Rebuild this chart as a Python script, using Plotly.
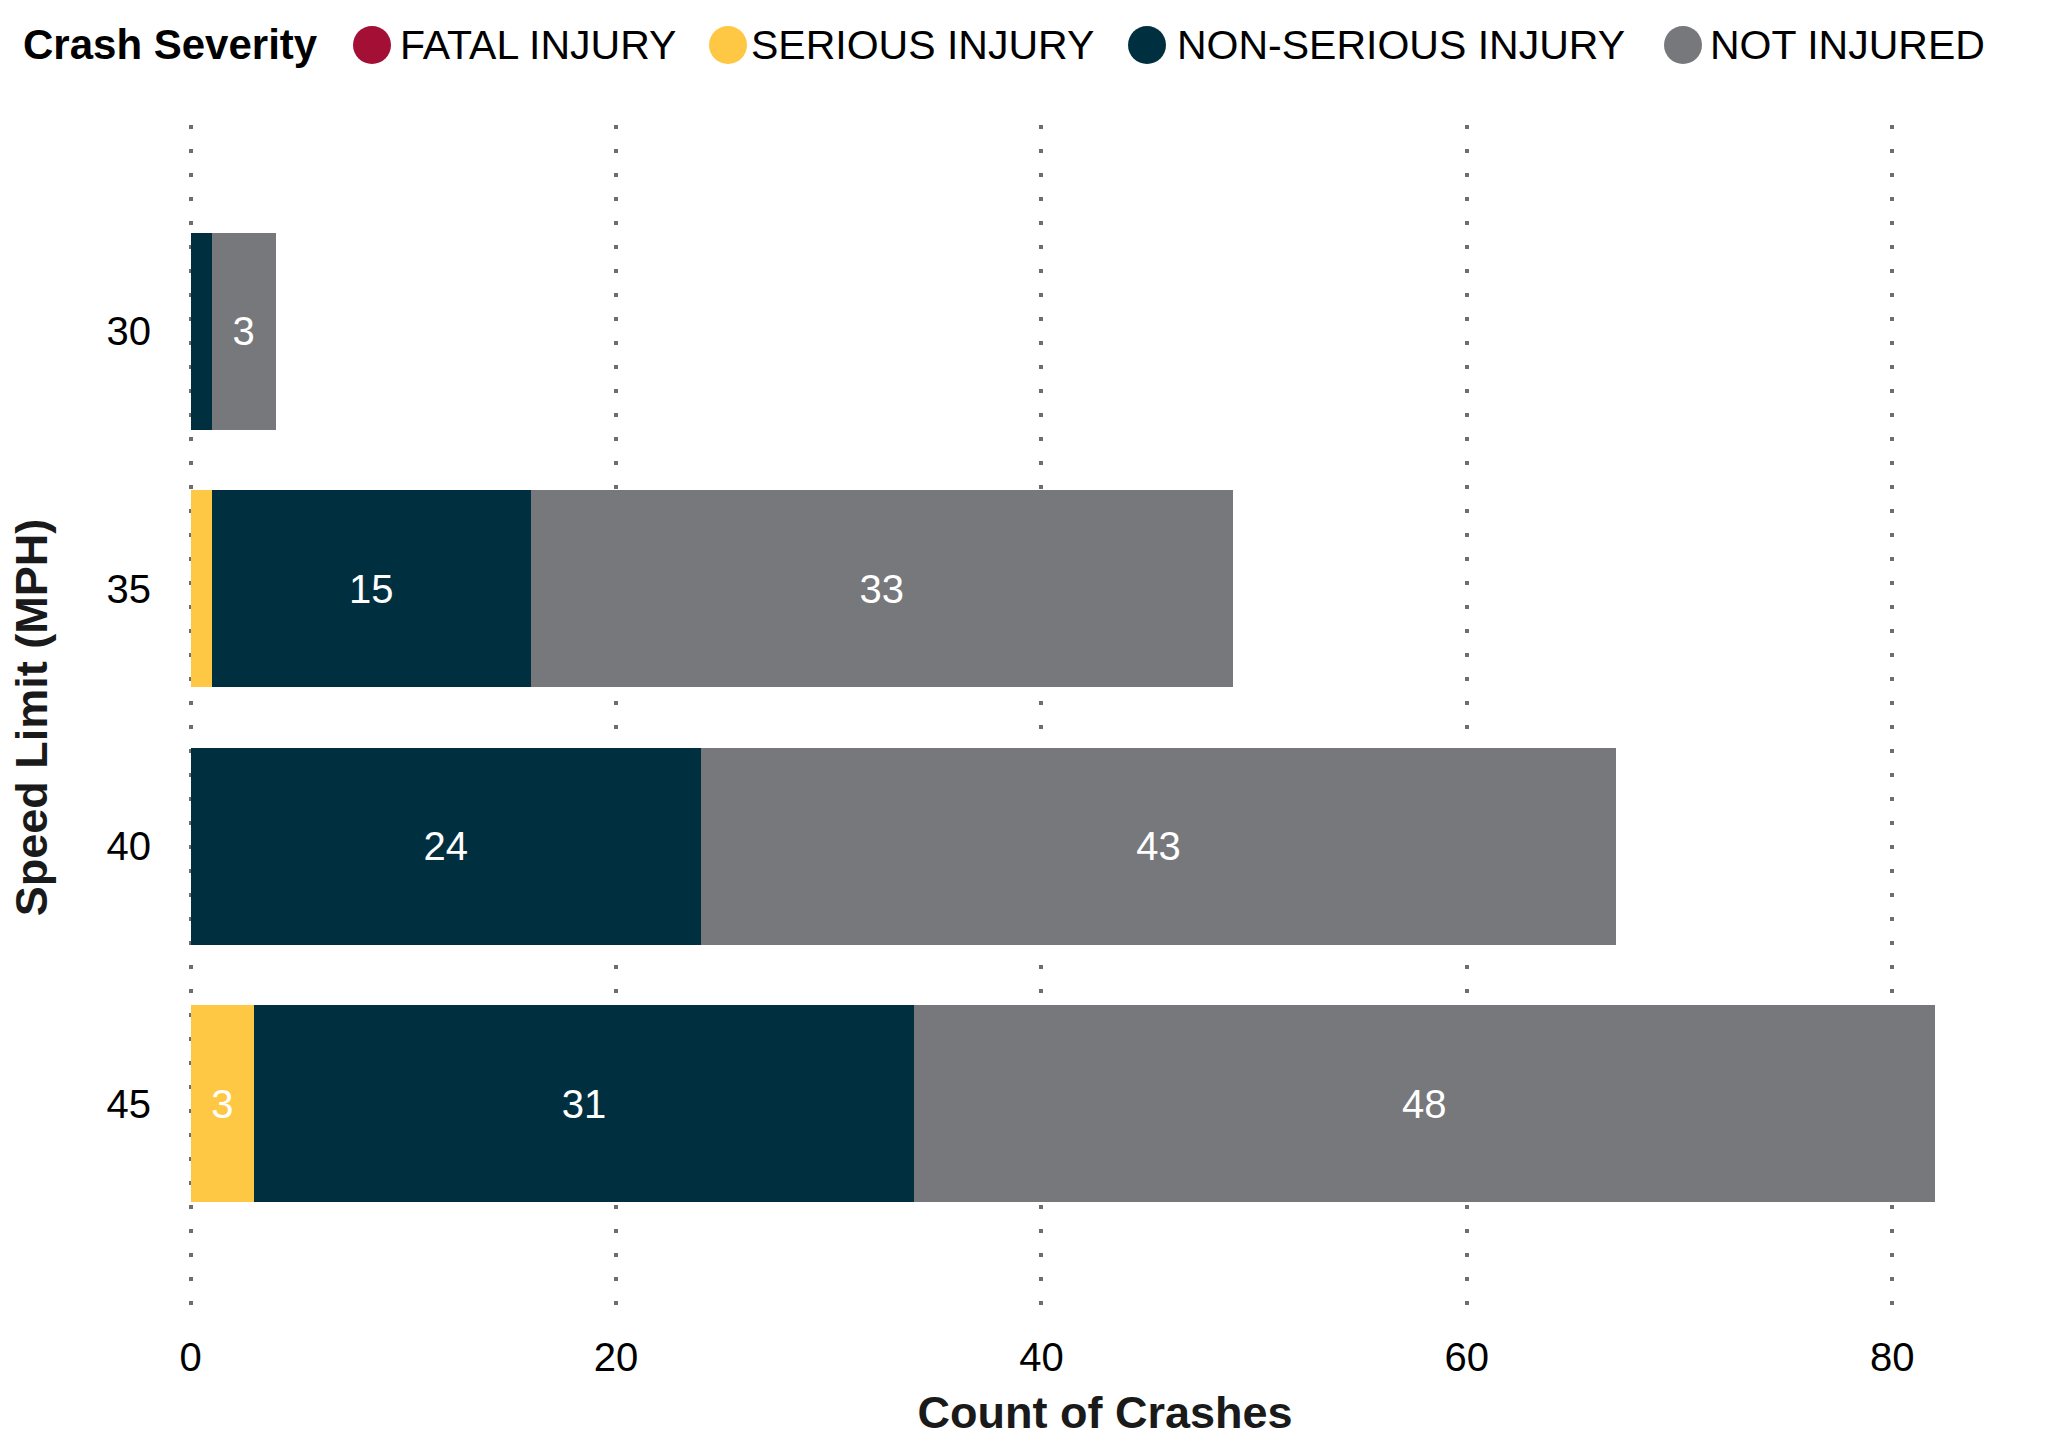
import plotly.graph_objects as go

# ---------------- data ----------------
speed_limits = ["30", "35", "40", "45"]
severity_names = ["FATAL INJURY", "SERIOUS INJURY", "NON-SERIOUS INJURY", "NOT INJURED"]
fatal = [0, 0, 0, 0]
serious = [0, 1, 0, 3]
non_serious = [1, 15, 24, 31]
not_injured = [3, 33, 43, 48]
x_ticks = [0, 20, 40, 60, 80]

series = [fatal, serious, non_serious, not_injured]
totals = [sum(v) for v in zip(*series)]

# ---------------- styles ----------------
colors = ["#A30F35", "#FFC844", "#00303F", "#77787B"]
FONT = "Liberation Sans, Arial, Helvetica, sans-serif"
W, H = 2048, 1448
ML, MR, MT, MB = 188, 26, 125, 138
PW, PH = W - ML - MR, H - MT - MB

fig = go.Figure()
for name, vals, col in zip(severity_names, series, colors):
    fig.add_trace(go.Bar(
        y=speed_limits, x=vals, name=name, orientation="h",
        marker=dict(color=col, line=dict(width=0)),
        texttemplate="%{x}", textposition="inside", insidetextanchor="middle",
        textangle=0, textfont=dict(family=FONT, size=40, color="white"),
        showlegend=False,
    ))

# totals to the right of each bar
for cat, tot in zip(speed_limits, totals):
    fig.add_annotation(x=tot, y=cat, xref="x", yref="y", text=str(tot),
                       showarrow=False, xanchor="left", yanchor="middle", xshift=28,
                       font=dict(family=FONT, size=40, color="black"))

# custom legend (large circle markers)
def px_to_paper_x(px):
    return (px - ML) / PW

def py_to_paper_y(py):
    return (MT + PH - py) / PH

leg_y = py_to_paper_y(45)
fig.add_annotation(x=px_to_paper_x(21), y=leg_y, xref="paper", yref="paper",
                   text="<b>Crash Severity</b>", showarrow=False, xanchor="left",
                   yanchor="middle", font=dict(family=FONT, size=42, color="black"))
circle_centers = [372, 728, 1147, 1683]
text_lefts = [398, 749, 1175, 1708]
for name, col, cx, tx in zip(severity_names, colors, circle_centers, text_lefts):
    fig.add_shape(type="circle", xref="paper", yref="paper",
                  xsizemode="pixel", ysizemode="pixel",
                  xanchor=px_to_paper_x(cx), yanchor=leg_y,
                  x0=-19, x1=19, y0=-19, y1=19,
                  fillcolor=col, line=dict(width=0))
    fig.add_annotation(x=px_to_paper_x(tx), y=leg_y, xref="paper", yref="paper",
                       text=name, showarrow=False, xanchor="left", yanchor="middle",
                       font=dict(family=FONT, size=41, color="black"))

fig.update_layout(
    width=W, height=H,
    margin=dict(l=ML, r=MR, t=MT, b=MB, pad=0),
    barmode="stack", bargap=0.235,
    plot_bgcolor="white", paper_bgcolor="white",
    font=dict(family=FONT, color="black"),
    uniformtext=dict(minsize=40, mode="hide"),
    showlegend=False,
)
fig.update_xaxes(
    range=[-0.12, 86.1], tickvals=x_ticks, showgrid=True,
    gridcolor="#6E6E6E", gridwidth=4, griddash="4px,20px",
    zeroline=False, showline=False, ticks="",
    ticklabelstandoff=20,
    tickfont=dict(family=FONT, size=40, color="black"),
    title=dict(text="<b>Count of Crashes</b>", standoff=18,
               font=dict(family=FONT, size=45, color="#1a1a1a")),
)
fig.update_yaxes(
    type="category", categoryorder="array", categoryarray=speed_limits,
    range=[3.8, -0.8], showgrid=False, zeroline=False, showline=False, ticks="",
    ticklabelstandoff=36,
    tickfont=dict(family=FONT, size=40, color="black"),
    title=dict(text="<b>Speed Limit (MPH)</b>", standoff=44,
               font=dict(family=FONT, size=45, color="#1a1a1a")),
)

fig.write_html("out.html", config={"displayModeBar": False},
               post_script="document.body.style.margin='0';")
